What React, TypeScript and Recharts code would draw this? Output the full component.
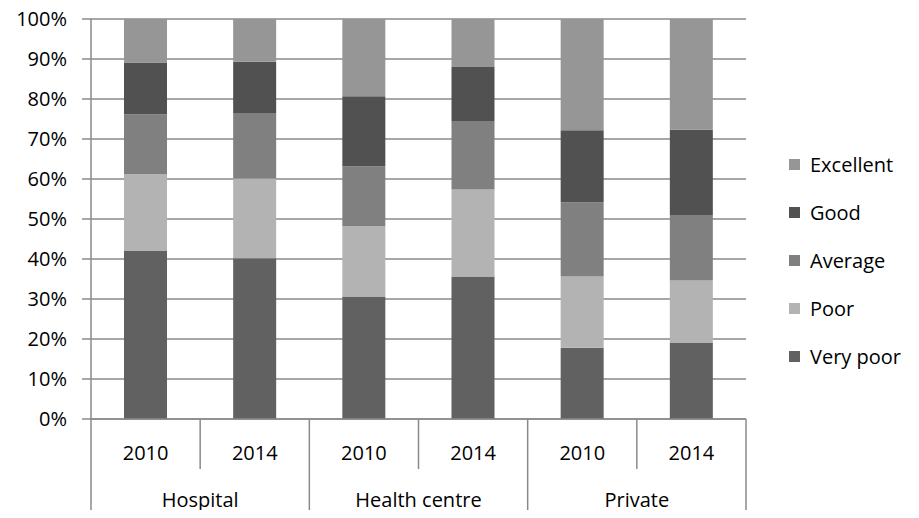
import { BarChart, Bar, XAxis, YAxis, CartesianGrid } from "recharts";

const groups = ["Hospital", "Hospital", "Health centre", "Health centre", "Private", "Private"];
const years = ["2010", "2014", "2010", "2014", "2010", "2014"];

const veryPoor = [42, 40.2, 30.6, 35.6, 17.8, 19.1];
const poor = [19.2, 19.9, 17.6, 21.8, 17.8, 15.5];
const average = [15, 16.4, 15, 17.1, 18.6, 16.4];
const good = [12.9, 12.8, 17.5, 13.5, 18, 21.3];
const excellent = [10.9, 10.7, 19.3, 12, 27.8, 27.7];

const yTicks = [0, 0.1, 0.2, 0.3, 0.4, 0.5, 0.6, 0.7, 0.8, 0.9, 1];

const series = [
  { key: "veryPoor", name: "Very poor", color: "#616161" },
  { key: "poor", name: "Poor", color: "#b3b3b3" },
  { key: "average", name: "Average", color: "#808080" },
  { key: "good", name: "Good", color: "#515151" },
  { key: "excellent", name: "Excellent", color: "#969696" },
];

const data = years.map((year, i) => ({
  id: i,
  year,
  group: groups[i],
  veryPoor: veryPoor[i],
  poor: poor[i],
  average: average[i],
  good: good[i],
  excellent: excellent[i],
}));

const W = 919;
const H = 518;
const margin = { top: 19, right: 173, left: 0, bottom: 0 };
const plotLeft = 91;
const slot = (W - margin.right - plotLeft) / years.length;
const FONT = "'Open Sans', sans-serif";
const FS = 20;
const LINE = "#8a8a8a";

function XTick(props: any) {
  const { x, y, payload } = props;
  const i = payload.index;
  const axisY = y - 8;
  const left = x - slot / 2;
  const right = x + slot / 2;
  const isGroupStart = i === 0 || groups[i] !== groups[i - 1];
  const isLast = i === years.length - 1;
  return (
    <g>
      <line x1={left} x2={left} y1={axisY} y2={isGroupStart ? H : axisY + 50} stroke={LINE} strokeWidth={1.5} />
      {isLast && <line x1={right} x2={right} y1={axisY} y2={H} stroke={LINE} strokeWidth={1.5} />}
      <text x={x} y={axisY + 41} textAnchor="middle" fontSize={FS} fontFamily={FONT} fill="#000">
        {years[i]}
      </text>
      {!isGroupStart && (
        <text x={left} y={axisY + 88} textAnchor="middle" fontSize={FS} fontFamily={FONT} fill="#000">
          {groups[i]}
        </text>
      )}
    </g>
  );
}

function LegendBox() {
  const items = [...series].reverse();
  return (
    <div style={{ position: "absolute", left: 789, top: 140, fontFamily: FONT, fontSize: FS }}>
      {items.map((s) => (
        <div key={s.key} style={{ display: "flex", alignItems: "center", height: 48 }}>
          <span style={{ width: 11, height: 11, background: s.color, marginRight: 10 }} />
          <span>{s.name}</span>
        </div>
      ))}
    </div>
  );
}

export default function App() {
  return (
    <div style={{ position: "relative", width: W, height: H, margin: -8, background: "#fff" }}>
      <BarChart width={W} height={H} data={data} margin={margin} stackOffset="expand" barCategoryGap={0}>
        <CartesianGrid vertical={false} stroke={LINE} strokeWidth={1.5} />
        <XAxis
          dataKey="id"
          tick={<XTick />}
          tickLine={false}
          axisLine={{ stroke: LINE, strokeWidth: 1.5 }}
          interval={0}
          height={99}
        />
        <YAxis
          width={plotLeft}
          domain={[0, 1]}
          ticks={yTicks}
          tickFormatter={(v: number) => `${Math.round(v * 100)}%`}
          tickSize={9}
          tickMargin={15}
          tickLine={{ stroke: LINE, strokeWidth: 1.5 }}
          axisLine={{ stroke: LINE, strokeWidth: 1.5 }}
          tick={{ fill: "#000", fontSize: FS, fontFamily: FONT }}
        />
        {series.map((s) => (
          <Bar key={s.key} dataKey={s.key} name={s.name} stackId="a" fill={s.color} barSize={43} isAnimationActive={false} />
        ))}
      </BarChart>
      <LegendBox />
    </div>
  );
}
